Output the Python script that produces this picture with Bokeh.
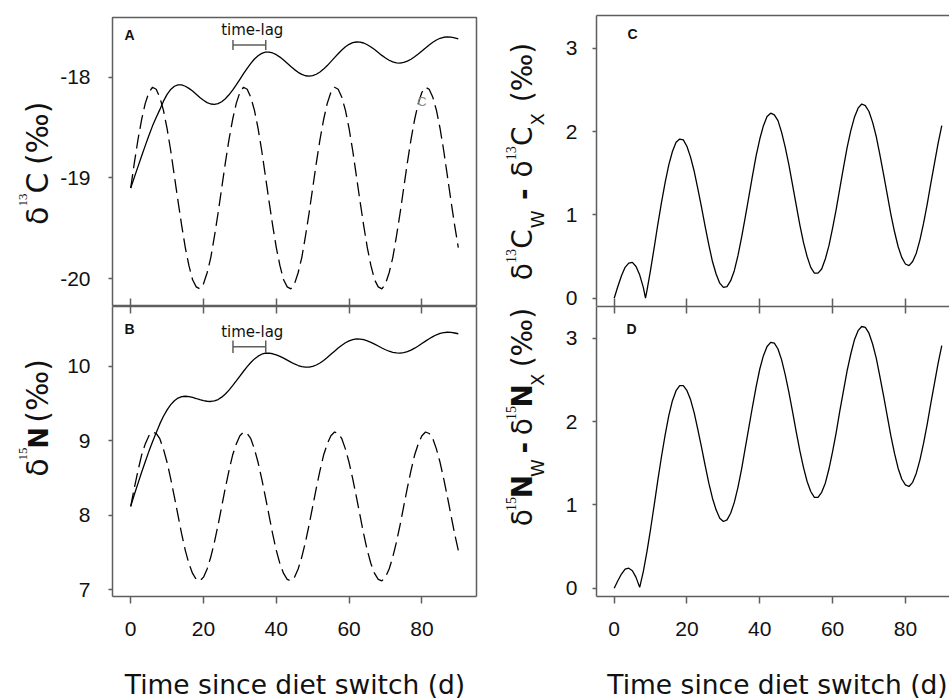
import math

from bokeh.embed import file_html
from bokeh.layouts import column, row
from bokeh.models import FixedTicker, Label, LinearAxis, Range1d
from bokeh.plotting import figure
from bokeh.resources import INLINE

# ---------------------------------------------------------------- data
days = list(range(91))

# diet (dashed) and tissue (solid) delta13C, panel A
diet_c13 = [
    -19.10, -18.85, -18.62, -18.42, -18.26, -18.15, -18.10, -18.12, -18.20, -18.33,
    -18.51, -18.73, -18.98, -19.23, -19.47, -19.69, -19.87, -20.01, -20.08, -20.10,
    -20.05, -19.94, -19.79, -19.58, -19.35, -19.10, -18.85, -18.62, -18.42, -18.26,
    -18.15, -18.10, -18.12, -18.20, -18.33, -18.51, -18.73, -18.98, -19.23, -19.47,
    -19.69, -19.87, -20.01, -20.08, -20.10, -20.05, -19.94, -19.79, -19.58, -19.35,
    -19.10, -18.85, -18.62, -18.42, -18.26, -18.15, -18.10, -18.12, -18.20, -18.33,
    -18.51, -18.73, -18.98, -19.23, -19.47, -19.69, -19.87, -20.01, -20.08, -20.10,
    -20.05, -19.94, -19.79, -19.58, -19.35, -19.10, -18.85, -18.62, -18.42, -18.26,
    -18.15, -18.10, -18.12, -18.20, -18.33, -18.51, -18.73, -18.98, -19.23, -19.47,
    -19.69,
]
tissue_c13 = [
    -19.100, -18.993, -18.887, -18.782, -18.679, -18.578, -18.483, -18.400, -18.322, -18.238,
    -18.171, -18.122, -18.090, -18.076, -18.077, -18.090, -18.111, -18.138, -18.169, -18.201,
    -18.229, -18.252, -18.266, -18.270, -18.263, -18.244, -18.214, -18.175, -18.129, -18.077,
    -18.021, -17.965, -17.912, -17.863, -17.820, -17.787, -17.764, -17.752, -17.751, -17.760,
    -17.777, -17.801, -17.830, -17.862, -17.894, -17.925, -17.952, -17.972, -17.986, -17.990,
    -17.985, -17.971, -17.949, -17.920, -17.885, -17.846, -17.806, -17.767, -17.730, -17.699,
    -17.674, -17.658, -17.651, -17.652, -17.661, -17.678, -17.700, -17.726, -17.755, -17.784,
    -17.810, -17.832, -17.849, -17.858, -17.860, -17.854, -17.841, -17.822, -17.798, -17.771,
    -17.741, -17.710, -17.681, -17.654, -17.631, -17.614, -17.604, -17.600, -17.602, -17.610,
    -17.620,
]

# diet (dashed) and tissue (solid) delta15N, panel B
diet_n15 = [
    8.12, 8.37, 8.60, 8.81, 8.96, 9.07, 9.12, 9.10, 9.03, 8.89,
    8.71, 8.49, 8.25, 8.00, 7.75, 7.53, 7.35, 7.22, 7.14, 7.12,
    7.17, 7.28, 7.44, 7.64, 7.87, 8.12, 8.37, 8.60, 8.81, 8.96,
    9.07, 9.12, 9.10, 9.03, 8.89, 8.71, 8.49, 8.25, 8.00, 7.75,
    7.53, 7.35, 7.22, 7.14, 7.12, 7.17, 7.28, 7.44, 7.64, 7.87,
    8.12, 8.37, 8.60, 8.81, 8.96, 9.07, 9.12, 9.10, 9.03, 8.89,
    8.71, 8.49, 8.25, 8.00, 7.75, 7.53, 7.35, 7.22, 7.14, 7.12,
    7.17, 7.28, 7.44, 7.64, 7.87, 8.12, 8.37, 8.60, 8.81, 8.96,
    9.07, 9.12, 9.10, 9.03, 8.89, 8.71, 8.49, 8.25, 8.00, 7.75,
    7.53,
]
tissue_n15 = [
    8.120, 8.280, 8.430, 8.580, 8.720, 8.860, 8.990, 9.110, 9.229, 9.332,
    9.418, 9.487, 9.540, 9.576, 9.596, 9.600, 9.595, 9.584, 9.570, 9.555,
    9.542, 9.533, 9.530, 9.537, 9.556, 9.588, 9.631, 9.683, 9.742, 9.806,
    9.872, 9.936, 9.998, 10.054, 10.102, 10.139, 10.165, 10.178, 10.179, 10.171,
    10.157, 10.136, 10.112, 10.085, 10.058, 10.034, 10.013, 9.999, 9.991, 9.991,
    10.001, 10.020, 10.047, 10.081, 10.120, 10.163, 10.206, 10.248, 10.286, 10.319,
    10.345, 10.362, 10.370, 10.368, 10.360, 10.345, 10.325, 10.301, 10.275, 10.249,
    10.225, 10.205, 10.190, 10.182, 10.180, 10.187, 10.200, 10.220, 10.246, 10.276,
    10.309, 10.341, 10.373, 10.402, 10.426, 10.445, 10.456, 10.460, 10.458, 10.450,
    10.440,
]

# panel C: |d13C_W - d13C_X|, sampled daily plus the day it touches zero
c_cusp_day = 8.6
days_c = days[:9] + [c_cusp_day] + days[9:]
diff_c13 = [
    0.00, 0.14, 0.27, 0.37, 0.42, 0.43, 0.38, 0.28, 0.13,
    0.00,
    0.09, 0.34, 0.61, 0.89, 1.15, 1.39, 1.60, 1.76, 1.87, 1.91, 1.90,
    1.82, 1.69, 1.52, 1.31, 1.09, 0.86, 0.64, 0.44, 0.29, 0.18,
    0.13, 0.14, 0.21, 0.33, 0.51, 0.73, 0.97, 1.22, 1.47, 1.71,
    1.91, 2.07, 2.18, 2.22, 2.20, 2.13, 1.99, 1.81, 1.60, 1.36,
    1.12, 0.88, 0.67, 0.50, 0.37, 0.30, 0.30, 0.35, 0.47, 0.63,
    0.84, 1.07, 1.32, 1.57, 1.81, 2.01, 2.17, 2.28, 2.33, 2.31,
    2.24, 2.11, 1.94, 1.72, 1.49, 1.25, 1.01, 0.80, 0.62, 0.49,
    0.41, 0.39, 0.44, 0.54, 0.70, 0.90, 1.13, 1.38, 1.62, 1.86,
    2.07,
]

# panel D: |d15N_W - d15N_X|
diff_n15 = [
    0.00, 0.09, 0.17, 0.23, 0.24, 0.21, 0.13, 0.01, 0.20, 0.44,
    0.71, 1.00, 1.30, 1.58, 1.84, 2.07, 2.25, 2.37, 2.43, 2.43,
    2.37, 2.26, 2.10, 1.90, 1.69, 1.47, 1.26, 1.08, 0.94, 0.84,
    0.80, 0.82, 0.90, 1.03, 1.21, 1.43, 1.68, 1.93, 2.18, 2.42,
    2.63, 2.79, 2.90, 2.95, 2.94, 2.87, 2.74, 2.56, 2.35, 2.12,
    1.88, 1.65, 1.45, 1.28, 1.16, 1.09, 1.09, 1.15, 1.26, 1.43,
    1.64, 1.87, 2.13, 2.37, 2.61, 2.81, 2.98, 3.09, 3.14, 3.13,
    3.06, 2.93, 2.76, 2.54, 2.31, 2.07, 1.83, 1.62, 1.44, 1.31,
    1.24, 1.22, 1.27, 1.38, 1.54, 1.74, 1.97, 2.22, 2.46, 2.70,
    2.91,
]

# ticks and tick labels
x_ticks = [0, 20, 40, 60, 80]
x_tick_labels = ["0", "20", "40", "60", "80"]
c13_ticks = [-20, -19, -18]
c13_tick_labels = ["-20", "-19", "-18"]
n15_ticks = [7, 8, 9, 10]
n15_tick_labels = ["7", "8", "9", "10"]
diff_ticks = [0, 1, 2, 3]
diff_tick_labels = ["0", "1", "2", "3"]

# time-lag brackets: (start day, end day, bracket level, half height, text level)
lag_c13 = (28.1, 37.1, -17.68, 0.05, -17.586)
lag_n15 = (28.1, 37.1, 10.265, 0.085, 10.394)

x_title = "Time since diet switch (d)"

# ---------------------------------------------------------------- style
FRAME = "#5e5e5e"
INK = "#111111"
LW = 1.5
TICK_FONT = "Liberation Sans"
TICK_SIZE = "21px"
LABEL_FONT = "DejaVu Sans"
SUP_FONT = "Liberation Serif"
# labels sit this fraction of their size lower than the requested baseline
BASE_FIX = 0.33

# approximate advance widths (em) used to lay out the composite y titles
EM = {"δ": 0.612, "C": 0.698, "N": 0.838, "W": 0.989, "X": 0.686,
      "-": 0.415, "(": 0.390, ")": 0.390, "‰": 0.85, "1": 0.5, "3": 0.5, "5": 0.5}


def make_panel(width, height, xr, yr, borders, outline):
    left, right, top, bottom = borders
    p = figure(width=width, height=height, x_range=Range1d(*xr), y_range=Range1d(*yr),
               output_backend="svg", toolbar_location=None,
               x_axis_location=None, y_axis_location=None,
               min_border_left=left, min_border_right=right,
               min_border_top=top, min_border_bottom=bottom)
    p.grid.visible = False
    p.background_fill_color = "white"
    p.border_fill_color = "white"
    if outline:
        p.outline_line_color = FRAME
        p.outline_line_width = LW
    else:
        p.outline_line_color = None
    return p


def make_strip(width, height):
    """Blank figure whose data units are page pixels (y downwards), used for titles."""
    p = figure(width=width, height=height, x_range=Range1d(0, width),
               y_range=Range1d(height, 0), output_backend="svg", toolbar_location=None,
               x_axis_location=None, y_axis_location=None,
               min_border_left=0, min_border_right=0, min_border_top=0, min_border_bottom=0)
    p.grid.visible = False
    p.outline_line_color = None
    p.background_fill_color = "white"
    p.border_fill_color = "white"
    return p


def add_axis(p, place, ticks, labels=None, tick_in=0, tick_out=0, standoff=0, line=True):
    ax = LinearAxis(ticker=FixedTicker(ticks=ticks))
    ax.axis_line_color = FRAME if line else None
    ax.axis_line_width = LW
    ax.major_tick_line_color = FRAME
    ax.major_tick_line_width = LW
    ax.major_tick_in = tick_in
    ax.major_tick_out = tick_out
    ax.minor_tick_line_color = None
    ax.minor_tick_in = 0
    ax.minor_tick_out = 0
    if labels:
        ax.major_label_overrides = dict(zip(ticks, labels))
        ax.major_label_text_font = TICK_FONT
        ax.major_label_text_font_size = TICK_SIZE
        ax.major_label_text_color = INK
        ax.major_label_standoff = standoff
    else:
        ax.major_label_overrides = {t: "" for t in ticks}
        ax.major_label_text_font_size = "1px"
        ax.major_label_standoff = 0
    p.add_layout(ax, place)
    return ax


def add_ytitle(strip, origin, pieces, base_x, center_y):
    """Rotated y title from pieces (text, font, size, bold, baseline shift, gap before)."""
    ox, oy = origin
    widths = [sum(EM.get(ch, 0.6) for ch in pc[0]) * pc[2] for pc in pieces]
    span = sum(widths) + sum(pc[5] for pc in pieces[1:])
    y = center_y + span / 2.0
    for i, ((t, f, s, b, sh, pre), w) in enumerate(zip(pieces, widths)):
        if i:
            y -= pre
        strip.add_layout(Label(
            x=base_x + sh - BASE_FIX * s - ox, y=y - oy, text=t, angle=math.pi / 2,
            text_align="left", text_baseline="alphabetic",
            text_font=f, text_font_size=f"{s}px",
            text_font_style="bold" if b else "normal", text_color=INK))
        y -= w


def add_letter(p, letter, dx, dy):
    p.add_layout(Label(x=p.x_range.start, y=p.y_range.end, x_offset=dx,
                       y_offset=-dy + BASE_FIX * 14,
                       text=letter, text_font=TICK_FONT, text_font_size="14px",
                       text_font_style="bold", text_color=INK,
                       text_align="left", text_baseline="alphabetic"))


def add_lag(p, lag):
    x0, x1, yb, half, ytext = lag
    p.segment(x0=[x0, x0, x1], y0=[yb, yb - half, yb - half],
              x1=[x1, x0, x1], y1=[yb, yb + half, yb + half],
              line_color=FRAME, line_width=LW)
    p.add_layout(Label(x=(x0 + x1) / 2.0 + 0.8, y=ytext, y_offset=BASE_FIX * 15,
                       text="time-lag",
                       text_font=LABEL_FONT, text_font_size="15px", text_color=INK,
                       text_align="center", text_baseline="alphabetic"))


def add_xtitle(strip, center_x, baseline_y):
    strip.add_layout(Label(x=center_x, y=baseline_y - BASE_FIX * 26.5, text=x_title,
                           text_font=LABEL_FONT, text_font_size="26.5px", text_color=INK,
                           text_align="center", text_baseline="alphabetic"))


# ---------------------------------------------------------------- panels
# page layout (pixels): left frames x 112..476, right frames x 596..949;
# top frames end at y 306, bottom frames span y 306..596, titles below.
TOP_H, BOT_H, STRIP_H = 306, 345, 48
TITLE_BASELINE = 693

# A (framed all round by its outline)
ytA = make_strip(56, TOP_H)
pA = make_panel(424, TOP_H, (-5, 95), (-20.275, -17.408), (56, 4, 17, 0), True)
add_axis(pA, "left", c13_ticks, c13_tick_labels, tick_out=4, standoff=18, line=False)
add_axis(pA, "below", x_ticks, tick_in=8, line=False)
pA.line(days, diet_c13, line_color="black", line_width=1.3, line_dash="14 6")
pA.line(days, tissue_c13, line_color="black", line_width=1.3)
add_lag(pA, lag_c13)
pA.add_layout(Label(x=80, y=-18.28, y_offset=BASE_FIX * 13, text="C",
                    text_font=TICK_FONT, text_font_size="13px",
                    text_color="#8c8c8c", text_align="center", text_baseline="alphabetic"))
add_letter(pA, "A", 12, 22)
add_ytitle(ytA, (0, 0),
           [("δ", LABEL_FONT, 30, False, 0, 0), ("13", SUP_FONT, 13, False, -20, 1),
            ("C", LABEL_FONT, 30, False, 0, 1), ("(‰)", LABEL_FONT, 30, False, 0, 9)],
           47, 163.5)

# B (shares its top edge with A)
ytB = make_strip(56, BOT_H)
pB = make_panel(424, BOT_H, (-5, 95), (6.910, 10.806), (56, 4, 0, 55), False)
add_axis(pB, "left", n15_ticks, n15_tick_labels, tick_out=4, standoff=18)
add_axis(pB, "below", x_ticks, x_tick_labels, tick_out=7, standoff=18)
add_axis(pB, "above", x_ticks, tick_in=7)
add_axis(pB, "right", [])
pB.line(days, diet_n15, line_color="black", line_width=1.3, line_dash="14 6")
pB.line(days, tissue_n15, line_color="black", line_width=1.3)
add_lag(pB, lag_n15)
add_letter(pB, "B", 12, 27)
add_ytitle(ytB, (0, TOP_H),
           [("δ", LABEL_FONT, 30, False, 0, 0), ("15", SUP_FONT, 13, False, -20, 1),
            ("N", LABEL_FONT, 26, True, 0, 1), ("(‰)", LABEL_FONT, 30, False, 0, 9)],
           47, 452)

xtL = make_strip(480, STRIP_H)
add_xtitle(xtL, 294.5, TITLE_BASELINE - TOP_H - BOT_H)

# C
xr_right = (-4.86, 92.12)
ytC = make_strip(70, TOP_H)
pC = make_panel(399, TOP_H, xr_right, (-0.0996, 3.392), (46, 0, 15, 0), False)
add_axis(pC, "left", diff_ticks, diff_tick_labels, tick_out=4, standoff=15)
add_axis(pC, "below", x_ticks, tick_in=8)
add_axis(pC, "above", [])
pC.line(days_c, diff_c13, line_color="black", line_width=1.3)
add_letter(pC, "C", 31, 23)
right_c = [("δ", LABEL_FONT, 28, False, 0, 0), ("13", SUP_FONT, 14, False, -16, 1),
           ("C", LABEL_FONT, 28, False, 0, 1), ("W", LABEL_FONT, 18, False, 12, 2),
           ("-", LABEL_FONT, 28, True, 0, 12), ("δ", LABEL_FONT, 28, False, 0, 12),
           ("13", SUP_FONT, 14, False, -16, 1), ("C", LABEL_FONT, 28, False, 0, 1),
           ("X", LABEL_FONT, 18, False, 12, 2), ("(‰)", LABEL_FONT, 28, False, 0, 12)]
add_ytitle(ytC, (480, 0), right_c, 531, 162)

# D (shares its top edge with C)
ytD = make_strip(70, BOT_H)
pD = make_panel(399, BOT_H, xr_right, (-0.0996, 3.380), (46, 0, 0, 55), False)
add_axis(pD, "left", diff_ticks, diff_tick_labels, tick_out=4, standoff=15)
add_axis(pD, "below", x_ticks, x_tick_labels, tick_out=7, standoff=18)
add_axis(pD, "above", x_ticks, tick_in=7)
pD.line(days, diff_n15, line_color="black", line_width=1.3)
add_letter(pD, "D", 30, 27)
right_d = [("δ", LABEL_FONT, 28, False, 0, 0), ("15", SUP_FONT, 14, False, -16, 1),
           ("N", LABEL_FONT, 28, True, 0, 1), ("W", LABEL_FONT, 18, False, 12, 2),
           ("-", LABEL_FONT, 28, True, 0, 10), ("δ", LABEL_FONT, 28, False, 0, 10),
           ("15", SUP_FONT, 14, False, -16, 1), ("N", LABEL_FONT, 28, True, 0, 1),
           ("X", LABEL_FONT, 18, False, 12, 2), ("(‰)", LABEL_FONT, 28, False, 0, 10)]
add_ytitle(ytD, (480, TOP_H), right_d, 531, 450)

xtR = make_strip(469, STRIP_H)
add_xtitle(xtR, 777.0 - 480, TITLE_BASELINE - TOP_H - BOT_H)

left_col = column(row(ytA, pA), row(ytB, pB), xtL)
right_col = column(row(ytC, pC), row(ytD, pD), xtR)
layout = row(left_col, right_col)

with open("out.html", "w") as fh:
    fh.write(file_html(layout, INLINE))
